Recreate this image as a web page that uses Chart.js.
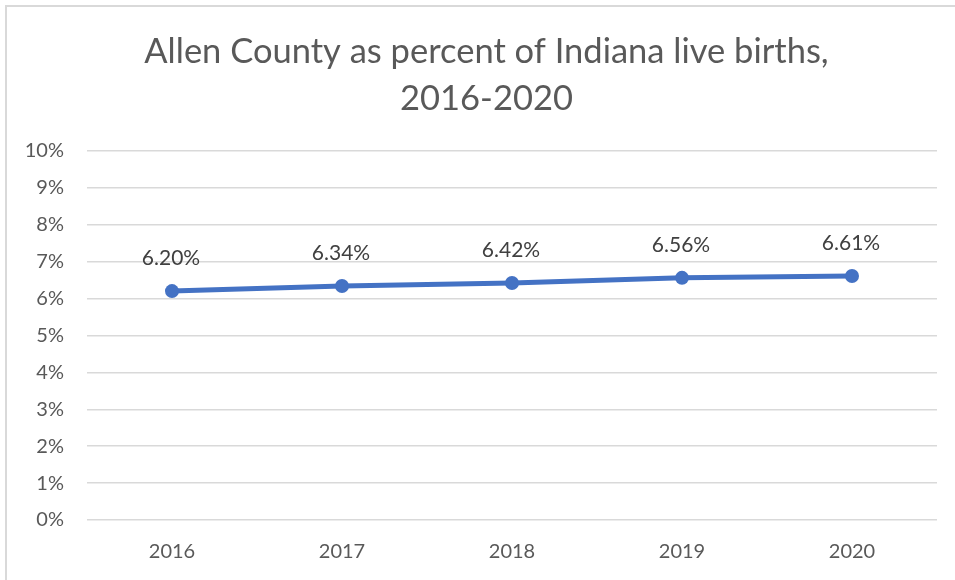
<!doctype html>
<html lang="en">
<head>
<meta charset="utf-8">
<title>Allen County as percent of Indiana live births</title>
<style>
  * { margin: 0; padding: 0; }
  body { width: 955px; height: 580px; background: #fff; overflow: hidden; }
  .chartBox { position: relative; width: 955px; height: 580px; }
  .frame {
    position: absolute; left: 5px; top: 5px; right: -10px; bottom: -10px;
    border-left: 2px solid #d9d9d9; border-top: 2px solid #d9d9d9;
    pointer-events: none;
  }
</style>
</head>
<body>
<div class="chartBox">
  <canvas id="myChart" width="955" height="580"></canvas>
  <div class="frame"></div>
</div>
<script src="https://cdn.jsdelivr.net/npm/chart.js"></script>
<script>
// data
const years = ['2016', '2017', '2018', '2019', '2020'];
const allenShare = [6.20, 6.34, 6.42, 6.56, 6.61];
const yTicks = [0, 1, 2, 3, 4, 5, 6, 7, 8, 9, 10];

const FONT = "Lato, 'Open Sans', sans-serif";

// value labels drawn above each point
const pointLabels = {
  id: 'pointLabels',
  afterDatasetsDraw(chart) {
    const ctx = chart.ctx;
    const meta = chart.getDatasetMeta(0);
    ctx.save();
    ctx.font = '21px ' + FONT;
    ctx.fillStyle = '#404040';
    ctx.textAlign = 'center';
    ctx.textBaseline = 'middle';
    meta.data.forEach(function (pt, i) {
      ctx.fillText(allenShare[i].toFixed(2) + '%', pt.x - 1, pt.y - 33);
    });
    ctx.restore();
  }
};

const config = {
  type: 'line',
  data: {
    labels: years,
    datasets: [{
      data: allenShare,
      borderColor: '#4472C4',
      backgroundColor: '#4472C4',
      borderWidth: 5,
      pointRadius: 7,
      pointHoverRadius: 7,
      pointBorderWidth: 0,
      tension: 0
    }]
  },
  options: {
    responsive: false,
    animation: false,
    // title is centred between the paddings, so they are set to put it a bit right of centre
    layout: { padding: { left: 18, right: 0, top: 0, bottom: 0 } },
    plugins: {
      legend: { display: false },
      tooltip: { enabled: false },
      title: {
        display: true,
        text: ['Allen County as percent of Indiana live births,', '2016-2020'],
        color: '#595959',
        font: { family: FONT, size: 34.5, weight: 'normal', lineHeight: 1.36 },
        padding: { top: 28, bottom: 29 }
      }
    },
    scales: {
      x: {
        offset: true,
        afterFit(scale) { scale.height = 60; },
        grid: { display: false },
        border: { display: false },
        ticks: { color: '#595959', font: { family: FONT, size: 20 }, padding: 12 }
      },
      y: {
        min: 0,
        max: 10,
        afterFit(scale) { scale.width = 69; },
        afterBuildTicks(scale) { scale.ticks = yTicks.map(v => ({ value: v })); },
        grid: { color: '#d9d9d9', lineWidth: 1.5, drawTicks: false },
        border: { display: false },
        ticks: {
          color: '#595959',
          font: { family: FONT, size: 20 },
          padding: 23,
          callback: v => v + '%'
        }
      },
      // empty right-hand margin for the plot area
      rightGap: {
        position: 'right',
        afterFit(scale) { scale.width = 18; },
        grid: { display: false },
        border: { display: false },
        ticks: { display: false }
      }
    }
  },
  plugins: [pointLabels]
};

window.chart = new Chart(document.getElementById('myChart'), config);
</script>
</body>
</html>
